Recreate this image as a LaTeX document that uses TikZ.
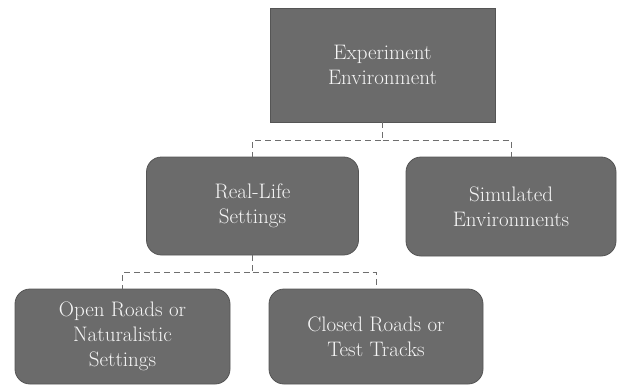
\documentclass[tikz,border=0pt]{standalone}
\usepackage{fontspec}
\newfontfamily\boxfont{Latin Modern Roman}
\usetikzlibrary{calc}
\definecolor{boxfill}{HTML}{6B6B6B}
\definecolor{boxedge}{HTML}{555555}
\definecolor{boxtext}{HTML}{F6F6F6}
\definecolor{linkgray}{HTML}{6E6E6E}
\begin{document}
\begin{tikzpicture}[x=1pt,y=-1pt,
  box/.style={draw=boxedge, fill=boxfill, text=boxtext, align=center,
    font=\boxfont\fontsize{21}{25}\selectfont, inner sep=0pt, line width=0.8pt},
  rbox/.style={box, rounded corners=15pt},
  link/.style={draw=linkgray, dash pattern=on 6pt off 4pt, line width=0.9pt}]
\useasboundingbox (0,0) rectangle (617,385);

% hierarchy boxes
\node[box, minimum width=225pt, minimum height=114pt] (env) at (382.5,65) {Experiment\\Environment};
\node[rbox, minimum width=212pt, minimum height=98pt] (real) at (252.5,206) {Real-Life\\Settings};
\node[rbox, minimum width=210pt, minimum height=99pt] (sim) at (511,206.5) {Simulated\\Environments};
\node[rbox, minimum width=215pt, minimum height=95pt] (open) at (122.5,336.5) {Open Roads or\\Naturalistic\\Settings};
\node[rbox, minimum width=214pt, minimum height=95pt] (closed) at (376,336.5) {Closed Roads or\\Test Tracks};

% dashed tree links
\coordinate (j1) at ($(env.south)+(0,18)$);
\coordinate (j2) at ($(real.south)+(0,17)$);
\draw[link] (env.south) -- (j1) -| (real.north);
\draw[link] (j1) -| (sim.north);
\draw[link] (real.south) -- (j2) -| (open.north);
\draw[link] (j2) -| (closed.north);
\end{tikzpicture}
\end{document}
